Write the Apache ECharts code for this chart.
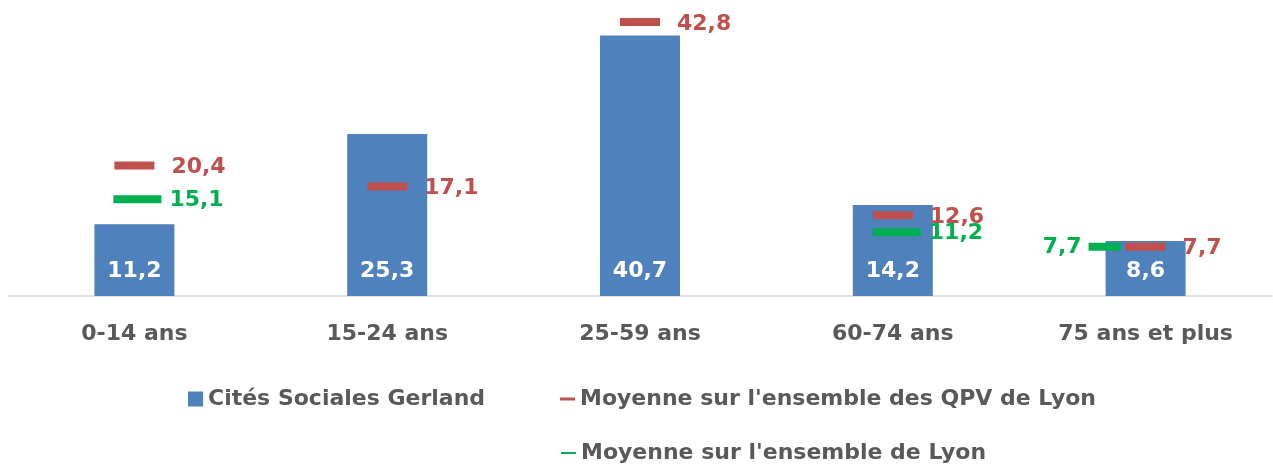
<!DOCTYPE html>
<html><head><meta charset="utf-8">
<script src="https://cdn.jsdelivr.net/npm/echarts@6/dist/echarts.min.js"></script>
<style>html,body{margin:0;padding:0;background:#fff}#c{width:1273px;height:466px}</style>
</head><body><div id="c"></div>
<script>
const categories = ['0-14 ans', '15-24 ans', '25-59 ans', '60-74 ans', '75 ans et plus'];
const seriesNames = ['Cités Sociales Gerland', "Moyenne sur l'ensemble des QPV de Lyon", "Moyenne sur l'ensemble de Lyon"];
const gerland = [11.2, 25.3, 40.7, 14.2, 8.6];
const qpvLyon = [20.4, 17.1, 42.8, 12.6, 7.7];
const lyon = [15.1, null, null, 11.2, 7.7];

const FONT = 'DejaVu Sans';
const GREY = '#595959';
const BLUE = '#4F81BD', RED = '#C0504D', GREEN = '#00B050';
const fmt = v => String(v.toFixed(1)).replace('.', ',');

// per-item marker styling for the green series (style only, not data)
const greenStyle = [
  { symbolSize: [48, 8], symbolOffset: [3, 0] },
  null, null,
  { symbolSize: [48, 8], symbolOffset: [4, 8] },
  { symbolSize: [32, 8], symbolOffset: [-41, 0], label: { position: 'left', distance: 7 } }
];
const greenData = lyon.map((v, i) => v == null ? null : Object.assign({ value: v }, greenStyle[i] || {}));

const chart = echarts.init(document.getElementById('c'), null, { renderer: 'canvas' });
const legendText = { color: GREY, fontFamily: FONT, fontWeight: 'bold', fontSize: 22 };
chart.setOption({
  animation: false,
  grid: { left: 8, right: 1, top: 8, bottom: 170, containLabel: false },
  xAxis: {
    type: 'category', data: categories,
    axisLine: { show: true, lineStyle: { color: '#D9D9D9', width: 1.5 } },
    axisTick: { show: false },
    axisLabel: { color: GREY, fontFamily: FONT, fontWeight: 'bold', fontSize: 22, margin: 27 }
  },
  yAxis: { type: 'value', min: 0, max: 45, show: false, splitLine: { show: false } },
  legend: [
    { left: 188, top: 388, padding: 0, itemWidth: 15, itemHeight: 15,
      data: [{ name: seriesNames[0], icon: 'rect' }], textStyle: legendText },
    { left: 560, top: 388, padding: 0, itemWidth: 15, itemHeight: 3,
      data: [{ name: seriesNames[1], icon: 'rect' }], textStyle: legendText },
    { left: 561, top: 442, padding: 0, itemWidth: 15, itemHeight: 2,
      data: [{ name: seriesNames[2], icon: 'rect' }], textStyle: legendText }
  ],
  series: [
    { name: seriesNames[0], type: 'bar', data: gerland, barWidth: 80,
      itemStyle: { color: BLUE },
      label: { show: true, position: 'insideBottom', distance: 14, color: '#fff',
        fontFamily: FONT, fontWeight: 'bold', fontSize: 22, formatter: p => fmt(p.value) } },
    { name: seriesNames[1], type: 'scatter', data: qpvLyon, symbol: 'rect', symbolSize: [40, 8],
      itemStyle: { color: RED, opacity: 1 }, z: 3,
      label: { show: true, position: 'right', distance: 17, color: RED, offset: [0, 2],
        fontFamily: FONT, fontWeight: 'bold', fontSize: 22, formatter: p => fmt(p.value) } },
    { name: seriesNames[2], type: 'scatter', data: greenData, symbol: 'rect',
      itemStyle: { color: GREEN, opacity: 1 }, z: 4,
      label: { show: true, position: 'right', distance: 8, color: GREEN, offset: [0, 1],
        fontFamily: FONT, fontWeight: 'bold', fontSize: 22, formatter: p => fmt(p.value) } }
  ]
});
</script></body></html>
